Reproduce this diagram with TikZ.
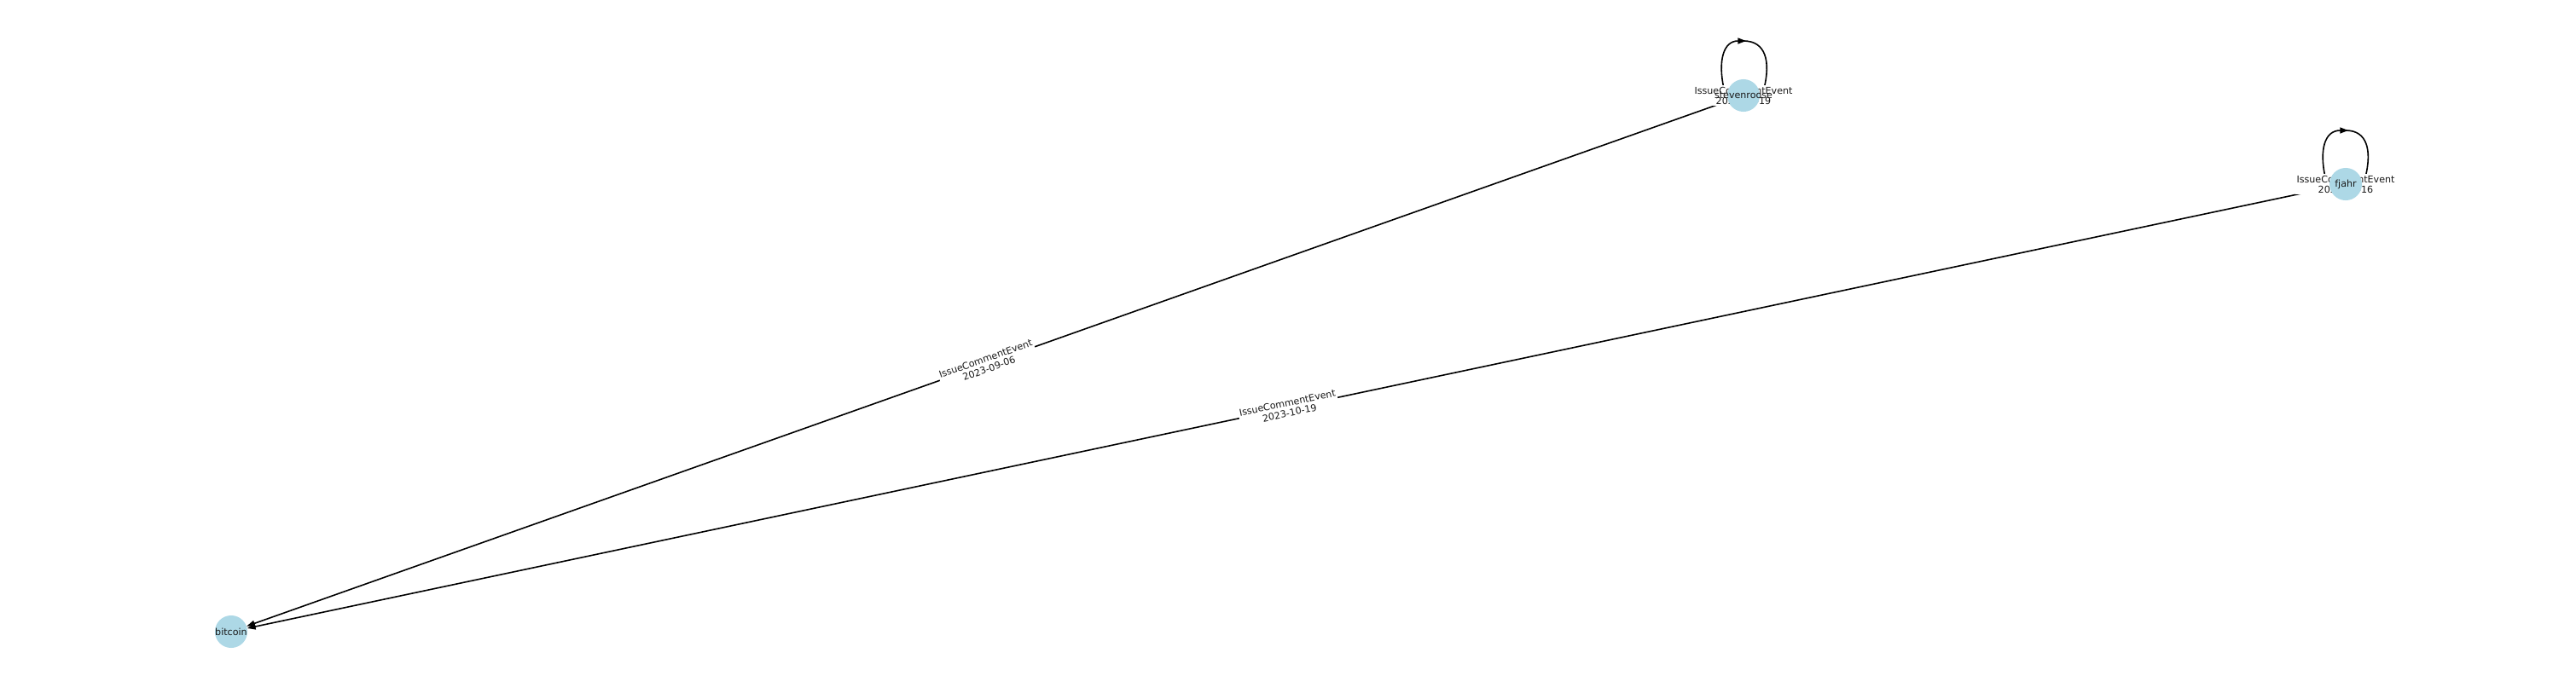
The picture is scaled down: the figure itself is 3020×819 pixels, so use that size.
\documentclass[tikz,border=0pt]{standalone}
\usepackage{fontspec}
\setmainfont{DejaVu Sans}
\usetikzlibrary{arrows.meta,calc}
\pgfdeclarelayer{edgelayer}
\pgfdeclarelayer{labellayer}
\pgfsetlayers{edgelayer,labellayer,main}
\definecolor{nodeblue}{HTML}{ADD8E6}
\tikzset{
  vert/.style={circle, fill=nodeblue, minimum size=27.4pt, inner sep=0pt},
  vtext/.style={font=\fontsize{8}{9}\selectfont, text=black!90},
  edge/.style={draw=black, line width=1.15pt, -{Triangle[length=7pt,width=5pt]}},
  loopline/.style={draw=black, line width=1.15pt},
  elabel/.style={fill=white, inner sep=1pt, font=\fontsize{8}{8.7}\selectfont, align=center, text=black!90},
}
\begin{document}
\begin{tikzpicture}[x=0.72pt,y=-0.72pt]
\useasboundingbox (0,0) rectangle (3020,819);
% nodes
\node[vert, label={[vtext]center:stevenroose}] (s) at (2044,112) {};
\node[vert, label={[vtext]center:fjahr}] (f) at (2750,216) {};
\node[vert, label={[vtext]center:bitcoin}] (b) at (271,741) {};
% edges
\begin{pgfonlayer}{edgelayer}
\draw[edge] (s) -- node[elabel, sloped]{IssueCommentEvent\\2023-09-06} (b);
\draw[edge] (f) -- node[elabel, sloped]{IssueCommentEvent\\2023-10-19} (b);
% self loops
\draw[loopline, -{Triangle[length=7pt,width=5pt]}] ($(s)+(-23,-8)$) .. controls ($(s)+(-30,-40)$) and ($(s)+(-24,-64)$) .. ($(s)+(3,-64)$);
\draw[loopline] ($(s)+(0,-64)$) .. controls ($(s)+(26,-64)$) and ($(s)+(32,-40)$) .. ($(s)+(24,-8)$);
\draw[loopline, -{Triangle[length=7pt,width=5pt]}] ($(f)+(-24,-8)$) .. controls ($(f)+(-31,-40)$) and ($(f)+(-25,-63)$) .. ($(f)+(3,-63)$);
\draw[loopline] ($(f)+(0,-63)$) .. controls ($(f)+(25,-63)$) and ($(f)+(31,-40)$) .. ($(f)+(23,-8)$);
\end{pgfonlayer}
% self-loop labels
\begin{pgfonlayer}{labellayer}
\node[elabel] (ls) at (s) {IssueCommentEvent\\2023-10-19};
\node[elabel] (lf) at (f) {IssueCommentEvent\\2023-10-16};
\end{pgfonlayer}
\end{tikzpicture}
\end{document}
